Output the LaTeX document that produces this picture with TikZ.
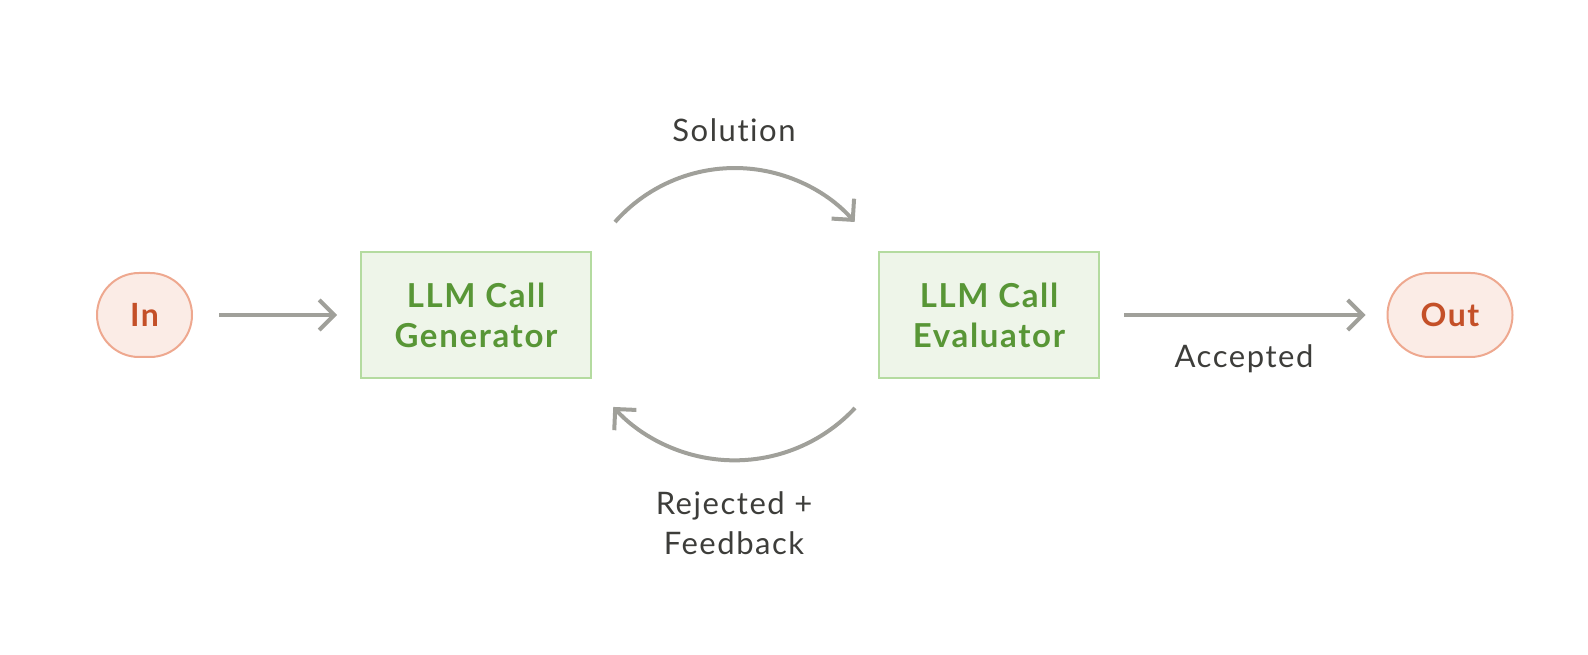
\documentclass[tikz,border=0pt]{standalone}
\usepackage{fontspec}
\setmainfont[LetterSpace=5,Ligatures={NoCommon,NoContextual}]{Lato}
\usetikzlibrary{arrows.meta}
\definecolor{linegray}{RGB}{160,160,154}
\definecolor{inktext}{RGB}{61,61,58}
\definecolor{llmfill}{RGB}{238,245,233}
\definecolor{llmedge}{RGB}{180,219,160}
\definecolor{llmtext}{RGB}{88,150,54}
\definecolor{iofill}{RGB}{251,236,230}
\definecolor{ioedge}{RGB}{238,168,143}
\definecolor{iotext}{RGB}{196,80,40}
\tikzset{
  flow/.style={draw=linegray, line width=4pt,
    -{Straight Barb[length=15pt,width=30pt,line width=4pt]}},
  llmbox/.style={draw=llmedge, fill=llmfill, line width=2pt,
    minimum width=230pt, minimum height=126pt, align=center,
    text=llmtext, font=\fontsize{33}{40}\selectfont\bfseries},
  iopill/.style={draw=ioedge, fill=iofill, line width=2pt,
    rounded corners=42pt, minimum height=84pt, align=center,
    text=iotext, font=\fontsize{32}{36}\selectfont\bfseries},
  lbl/.style={text=inktext, align=center, font=\fontsize{31}{40}\selectfont}
}
\begin{document}
\begin{tikzpicture}[x=1pt,y=1pt]
  \useasboundingbox (0,0) rectangle (1588,654);
  \node[iopill, minimum width=95pt] (in) at (144.5,339) {In};
  \node[llmbox] (gen) at (476,339) {LLM Call\\Generator};
  \node[llmbox, minimum width=220pt] (eval) at (989,339) {LLM Call\\Evaluator};
  \node[iopill, minimum width=125pt] (out) at (1450,339) {Out};

  % straight connectors
  \draw[flow] ([xshift=26pt]in.east) -- ([xshift=-23pt]gen.west);
  \draw[flow] ([xshift=24pt]eval.east) -- ([xshift=-21pt]out.west);
  \node[lbl] (acc) at (1244,295) {Accepted};

  % feedback loop between generator and evaluator
  \coordinate (solstart) at (615,432);
  \coordinate (rejstart) at (855,246);
  \draw[flow] (solstart) arc[start angle=138.5, end angle=41.5, radius=160];
  \draw[flow] (rejstart) arc[start angle=-43, end angle=-137.5, radius=164.6];
  \node[lbl] (sol) at (734,524) {Solution};
  \node[lbl] (rej) at (734,131) {Rejected +\\Feedback};
\end{tikzpicture}
\end{document}
